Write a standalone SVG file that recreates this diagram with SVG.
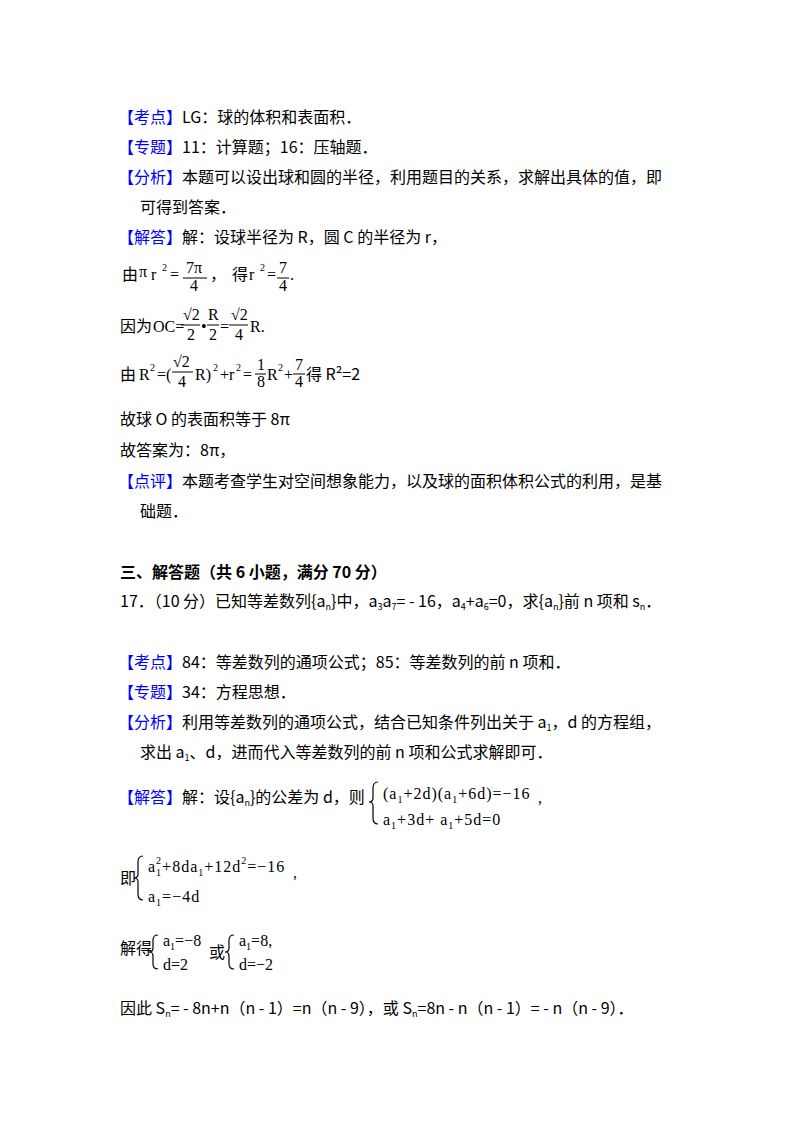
<svg xmlns="http://www.w3.org/2000/svg" width="800" height="1132" viewBox="0 0 800 1132">
<style>
text{font-family:"Noto Sans CJK SC","Noto Sans",sans-serif;font-size:16px;fill:#000}
.b{fill:#0000ff}
.m{font-family:"Liberation Serif","Noto Sans CJK SC",serif;font-size:16px}
.s{font-size:10px}
.h{font-weight:bold;font-size:16px}
line{stroke:#000;stroke-width:1}
path{fill:none;stroke:#000;stroke-width:1.2}
</style>
<rect width="800" height="1132" fill="#fff"/>
<text x="118" y="123"><tspan class="b">【考点】</tspan>LG：球的体积和表面积．</text>
<text x="118" y="153"><tspan class="b">【专题】</tspan>11：计算题；16：压轴题．</text>
<text x="118" y="183"><tspan class="b">【分析】</tspan>本题可以设出球和圆的半径，利用题目的关系，求解出具体的值，即</text>
<text x="140" y="213">可得到答案．</text>
<text x="118" y="243"><tspan class="b">【解答】</tspan>解：设球半径为 R，圆 C 的半径为 r，</text>
<text x="122" y="280">由</text>
<text class="m" x="139" y="277">π</text>
<text class="m" x="151" y="280">r</text><text class="m s" x="162" y="271">2</text>
<text class="m" x="170" y="280">=</text>
<text class="m" x="186" y="273" font-size="13">7π</text><line x1="183" y1="278" x2="207" y2="278"/><text class="m" x="190" y="291" font-size="13">4</text>
<text x="210" y="280">，</text>
<text x="232" y="280">得</text>
<text class="m" x="249" y="280">r</text><text class="m s" x="260" y="271">2</text>
<text class="m" x="267" y="280">=</text>
<text class="m" x="279" y="273" font-size="13">7</text><line x1="277" y1="278" x2="289" y2="278"/><text class="m" x="279" y="291" font-size="13">4</text>
<text class="m" x="290" y="280">.</text>
<text x="120" y="332">因为</text>
<text class="m" x="153" y="332" font-size="14">OC=</text>
<text class="m" x="183" y="320">√2</text><line x1="181" y1="325" x2="200" y2="325"/><text class="m" x="187" y="340">2</text>
<text class="m" x="201" y="332">•</text>
<text class="m" x="208" y="320">R</text><line x1="207" y1="325" x2="219" y2="325"/><text class="m" x="209" y="340">2</text>
<text class="m" x="220" y="332">=</text>
<text class="m" x="231" y="320">√2</text><line x1="229" y1="325" x2="248" y2="325"/><text class="m" x="235" y="340">4</text>
<text class="m" x="250" y="332">R.</text>
<text x="120" y="380">由</text>
<text class="m" x="139" y="380">R</text><text class="m s" x="150" y="371">2</text>
<text class="m" x="157" y="380">=(</text>
<text class="m" x="173" y="367">√2</text><line x1="172" y1="372" x2="193" y2="372"/><text class="m" x="178" y="387">4</text>
<text class="m" x="195" y="380">R)</text><text class="m s" x="213" y="371">2</text>
<text class="m" x="220" y="380">+r</text><text class="m s" x="236" y="371">2</text>
<text class="m" x="243" y="380">=</text>
<text class="m" x="257" y="370" font-size="13">1</text><line x1="255" y1="374" x2="266" y2="374"/><text class="m" x="257" y="387" font-size="13">8</text>
<text class="m" x="267" y="380">R</text><text class="m s" x="278" y="371">2</text>
<text class="m" x="284" y="380">+</text>
<text class="m" x="295" y="370" font-size="13">7</text><line x1="293" y1="374" x2="305" y2="374"/><text class="m" x="295" y="387" font-size="13">4</text>
<text x="306" y="380">得 R²=2</text>
<text x="120" y="425">故球 O 的表面积等于 8π</text>
<text x="120" y="456">故答案为：8π，</text>
<text x="118" y="487"><tspan class="b">【点评】</tspan>本题考查学生对空间想象能力，以及球的面积体积公式的利用，是基</text>
<text x="140" y="517">础题．</text>
<text class="h" x="120" y="578">三、解答题（共 6 小题，满分 70 分）</text>
<text x="120" y="607">17．（10 分）已知等差数列{a<tspan font-size="9" dy="3">n</tspan><tspan dy="-3">}中，a</tspan><tspan font-size="9" dy="3">3</tspan><tspan dy="-3">a</tspan><tspan font-size="9" dy="3">7</tspan><tspan dy="-3">= - 16，a</tspan><tspan font-size="9" dy="3">4</tspan><tspan dy="-3">+a</tspan><tspan font-size="9" dy="3">6</tspan><tspan dy="-3">=0，求{a</tspan><tspan font-size="9" dy="3">n</tspan><tspan dy="-3">}前 n 项和 s</tspan><tspan font-size="9" dy="3">n</tspan><tspan dy="-3">．</tspan></text>
<text x="118" y="668"><tspan class="b">【考点】</tspan>84：等差数列的通项公式；85：等差数列的前 n 项和．</text>
<text x="118" y="698"><tspan class="b">【专题】</tspan>34：方程思想．</text>
<text x="118" y="728"><tspan class="b">【分析】</tspan>利用等差数列的通项公式，结合已知条件列出关于 a<tspan font-size="9" dy="3">1</tspan><tspan dy="-3">，d 的方程组，</tspan></text>
<text x="140" y="758">求出 a<tspan font-size="9" dy="3">1</tspan><tspan dy="-3">、d，进而代入等差数列的前 n 项和公式求解即可．</tspan></text>
<text x="118" y="803"><tspan class="b">【解答】</tspan>解：设{a<tspan font-size="9" dy="3">n</tspan><tspan dy="-3">}的公差为 d，则</tspan></text>
<path d="M378,782 q-5,0 -5,6 v10 q0,4 -4,4 q4,0 4,4 v12 q0,6 5,6"/>
<text class="m" x="383" y="799" letter-spacing="1">(a<tspan font-size="10" dy="4">1</tspan><tspan dy="-4">+2d)(a</tspan><tspan font-size="10" dy="4">1</tspan><tspan dy="-4">+6d)=−16</tspan></text>
<text class="m" x="538" y="803">,</text>
<text class="m" x="383" y="825" letter-spacing="1">a<tspan font-size="10" dy="4">1</tspan><tspan dy="-4">+3d+ a</tspan><tspan font-size="10" dy="4">1</tspan><tspan dy="-4">+5d=0</tspan></text>
<text x="120" y="884">即</text>
<path d="M143,856 q-5,0 -5,6 v12 q0,4 -4,4 q4,0 4,4 v12 q0,6 5,6"/>
<text class="m" x="148" y="872" letter-spacing="1">a<tspan font-size="10" dy="4">1</tspan><tspan font-size="10" dx="-6" dy="-12">2</tspan><tspan dy="8">+8da</tspan><tspan font-size="10" dy="4">1</tspan><tspan dy="-4">+12d</tspan><tspan font-size="10" dy="-8">2</tspan><tspan dy="8">=−16</tspan></text>
<text class="m" x="293" y="878">,</text>
<text class="m" x="148" y="902" letter-spacing="1">a<tspan font-size="10" dy="4">1</tspan><tspan dy="-4">=−4d</tspan></text>
<text x="120" y="954">解得</text>
<path d="M158,935 q-5,0 -5,5 v8 q0,4 -4,4 q4,0 4,4 v8 q0,5 5,5"/>
<text class="m" x="163" y="946">a<tspan font-size="10" dy="4">1</tspan><tspan dy="-4">=−8</tspan></text>
<text class="m" x="163" y="970">d=2</text>
<text x="209" y="958">或</text>
<path d="M234,935 q-5,0 -5,5 v8 q0,4 -4,4 q4,0 4,4 v8 q0,5 5,5"/>
<text class="m" x="239" y="946">a<tspan font-size="10" dy="4">1</tspan><tspan dy="-4">=8,</tspan></text>
<text class="m" x="239" y="970">d=−2</text>
<text x="120" y="1014">因此 S<tspan font-size="9" dy="3">n</tspan><tspan dy="-3">= - 8n+n（n - 1）=n（n - 9），或 S</tspan><tspan font-size="9" dy="3">n</tspan><tspan dy="-3">=8n - n（n - 1）= - n（n - 9）．</tspan></text>
</svg>
